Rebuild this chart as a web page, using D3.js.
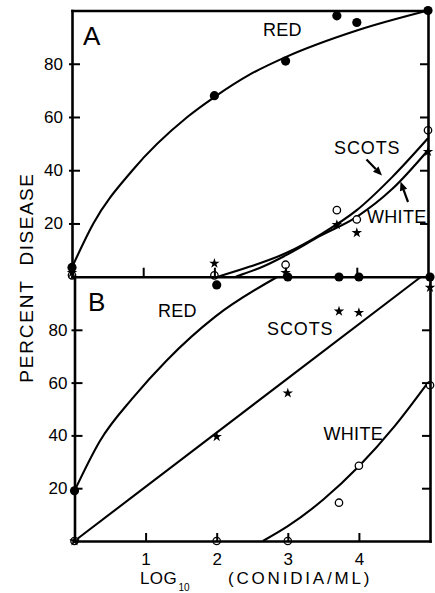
<!DOCTYPE html>
<html><head><meta charset="utf-8">
<script src="https://cdn.jsdelivr.net/npm/d3@7"></script>
<style>
html,body{margin:0;padding:0;background:#fff;}
svg{display:block;}
text{font-family:"Liberation Sans",Arial,Helvetica,sans-serif;fill:#000;}
</style></head><body>
<svg id="chart" width="435" height="593"></svg>
<script>
// ---------- data ----------
const xTicks = [1, 2, 3, 4];
const yTicks = [20, 40, 60, 80];
const doseX = [0, 2, 3, 3.72, 4, 5];          // log10 conidia/ml of observations

// Panel A observations (percent disease)
const redA   = [3.5, 68, 81, 98, 95.5, 100];
const scotsA = [1.5, 5, 1.5, 19.5, 16.5, 47];
const whiteA = [0.5, 0.5, 4.5, 25, 21.5, 55];
// Panel A fitted curves
const redCurveAx   = [0, 0.3, 0.85, 1.62, 2, 2.5, 3, 4, 5];
const redCurveAy   = [3.5, 20, 40, 60, 67.5, 76, 82.5, 92.5, 100];
const scotsCurveAx = [2.05, 2.5, 3, 3.5, 4, 4.5, 5];
const scotsCurveAy = [0, 3.8, 8.8, 16, 25, 37.5, 52];
const whiteCurveAx = [2.3, 2.7, 3, 3.5, 4, 4.5, 5];
const whiteCurveAy = [0, 4, 8, 15.5, 22.5, 33, 47.5];

// Panel B observations
const redB   = [19, 97, 100, 100, 100, 100];
const scotsB = [0, 39.5, 56, 87, 86.5, 96];
const whiteB = [0, 0, 0, 14.5, 28.5, 59];
// Panel B fitted curves
const redCurveBx   = [0, 0.36, 0.83, 1.3, 1.98, 2.85];
const redCurveBy   = [19, 38, 54.5, 68.5, 85, 100];
const scotsCurveBx = [0, 4.87];
const scotsCurveBy = [0, 100];
const whiteCurveBx = [2.65, 3, 3.5, 4, 4.5, 4.96];
const whiteCurveBy = [0, 5.6, 15.7, 28.3, 43.4, 59.6];

// ---------- drawing ----------
const svg = d3.select("#chart");
const FONT = '"Liberation Sans",Arial,Helvetica,sans-serif';

const xA = d3.scaleLinear([0, 5], [72, 428]);
const yA = d3.scaleLinear([0, 100], [276.7, 10.5]);
const xB = d3.scaleLinear([0, 5], [74.5, 430]);
const yB = d3.scaleLinear([0, 100], [541, 277]);

const zip = (xs, ys) => xs.map((x, i) => [x, ys[i]]);

function styleAxis(g, tickW) {
  g.select(".domain").attr("stroke", "#000").attr("stroke-width", 2.6).attr("stroke-linecap", "square");
  g.selectAll(".tick line").attr("stroke", "#000").attr("stroke-width", tickW || 2);
  g.selectAll(".tick text").attr("font-family", FONT).attr("font-size", 17).attr("fill", "#000");
}

function drawCurves(x, y, curves) {
  const lineGen = (curveType) => d3.line().x(d => x(d[0])).y(d => y(d[1])).curve(curveType);
  curves.forEach(c => {
    svg.append("path").attr("d", lineGen(c.curve)(c.pts))
      .attr("fill", "none").attr("stroke", "#000").attr("stroke-width", 2.1);
  });
}

function drawSideAxes(x, y, leftPad) {
  const gl = svg.append("g").attr("transform", `translate(${x(0)},0)`)
    .call(d3.axisLeft(y).tickValues(yTicks).tickSizeInner(-8).tickSizeOuter(0).tickPadding(leftPad));
  styleAxis(gl);
  gl.selectAll(".tick line").attr("x1", -3);

  const gr = svg.append("g").attr("transform", `translate(${x(5)},0)`)
    .call(d3.axisRight(y).tickValues(yTicks).tickSizeInner(-8).tickSizeOuter(0).tickFormat(""));
  styleAxis(gr);
}

// curves
drawCurves(xA, yA, [
  { pts: zip(redCurveAx, redCurveAy), curve: d3.curveMonotoneX },
  { pts: zip(scotsCurveAx, scotsCurveAy), curve: d3.curveMonotoneX },
  { pts: zip(whiteCurveAx, whiteCurveAy), curve: d3.curveMonotoneX }
]);
drawCurves(xB, yB, [
  { pts: zip(redCurveBx, redCurveBy), curve: d3.curveMonotoneX },
  { pts: zip(scotsCurveBx, scotsCurveBy), curve: d3.curveLinear },
  { pts: zip(whiteCurveBx, whiteCurveBy), curve: d3.curveMonotoneX }
]);

// markers
function markers(x, y, vals, kind) {
  const pts = zip(doseX, vals);
  if (kind === "red") {
    svg.append("g").selectAll("circle").data(pts).join("circle")
      .attr("cx", d => x(d[0])).attr("cy", d => y(d[1])).attr("r", 4.6).attr("fill", "#000");
  } else if (kind === "scots") {
    svg.append("g").selectAll("path").data(pts).join("path")
      .attr("d", d3.symbol(d3.symbolStar, 34))
      .attr("transform", d => `translate(${x(d[0])},${y(d[1])})`).attr("fill", "#000");
  } else {
    svg.append("g").selectAll("circle").data(pts).join("circle")
      .attr("cx", d => x(d[0])).attr("cy", d => y(d[1])).attr("r", 3.7)
      .attr("fill", "#fff").attr("stroke", "#000").attr("stroke-width", 1.3);
  }
}
markers(xA, yA, whiteA, "white");
markers(xA, yA, scotsA, "scots");
markers(xA, yA, redA, "red");
markers(xB, yB, whiteB, "white");
markers(xB, yB, scotsB, "scots");
markers(xB, yB, redB, "red");

// axes (drawn over the markers so tick lines pass through open circles)
drawSideAxes(xA, yA, 9);
drawSideAxes(xB, yB, 7);

const gt = svg.append("g").attr("transform", `translate(0,${yA(100)})`)
  .call(d3.axisTop(xA).tickValues([]).tickSizeOuter(0));
styleAxis(gt);

const gba = svg.append("g").attr("transform", `translate(0,${yA(0)})`)
  .call(d3.axisBottom(xA).tickValues(xTicks).tickSizeInner(-9).tickSizeOuter(0).tickFormat(""));
styleAxis(gba);

const gbb = svg.append("g").attr("transform", `translate(0,${yB(0)})`)
  .call(d3.axisBottom(xB).tickValues(xTicks).tickSizeInner(-8).tickSizeOuter(0).tickPadding(12).tickFormat(d3.format("d")));
styleAxis(gbb);

// text labels
function label(txt, x, y, size, ls) {
  return svg.append("text").attr("x", x).attr("y", y).attr("font-size", size)
    .attr("letter-spacing", ls || 0).text(txt);
}
label("A", 83, 45, 26);
label("B", 88, 310.5, 26);
label("RED", 263, 36, 18, 0.3);
label("SCOTS", 334, 154, 18, 0.9);
label("WHITE", 367, 222.5, 18, 0.3);
label("RED", 158, 317.3, 18, 0.3);
label("SCOTS", 267, 335, 18, 0.9);
label("WHITE", 323.5, 440, 18, 0.3);

// arrows
function arrow(x1, y1, x2, y2) {
  const ang = Math.atan2(y2 - y1, x2 - x1);
  const L = 9, W = 3.8;
  const bx = x2 - L * Math.cos(ang), by = y2 - L * Math.sin(ang);
  svg.append("line").attr("x1", x1).attr("y1", y1).attr("x2", bx).attr("y2", by)
    .attr("stroke", "#000").attr("stroke-width", 2.2);
  const px = -Math.sin(ang) * W, py = Math.cos(ang) * W;
  svg.append("path").attr("d", `M${x2},${y2}L${bx + px},${by + py}L${bx - px},${by - py}Z`).attr("fill", "#000");
}
arrow(366.5, 159.5, 382, 175.5);
arrow(408, 202, 400.5, 181.5);

// axis titles
svg.append("text").attr("transform", "translate(33,331) rotate(-90)")
  .attr("text-anchor", "middle").attr("font-size", 19).attr("letter-spacing", 1.8).text("PERCENT");
svg.append("text").attr("transform", "translate(33,219) rotate(-90)")
  .attr("text-anchor", "middle").attr("font-size", 19).attr("letter-spacing", 1.5).text("DISEASE");

label("LOG", 140, 584, 17, 0.4);
label("10", 178.5, 590.5, 10, 0);
label("(CONIDIA/ML)", 228, 584, 17, 2.8);
</script>
</body></html>
